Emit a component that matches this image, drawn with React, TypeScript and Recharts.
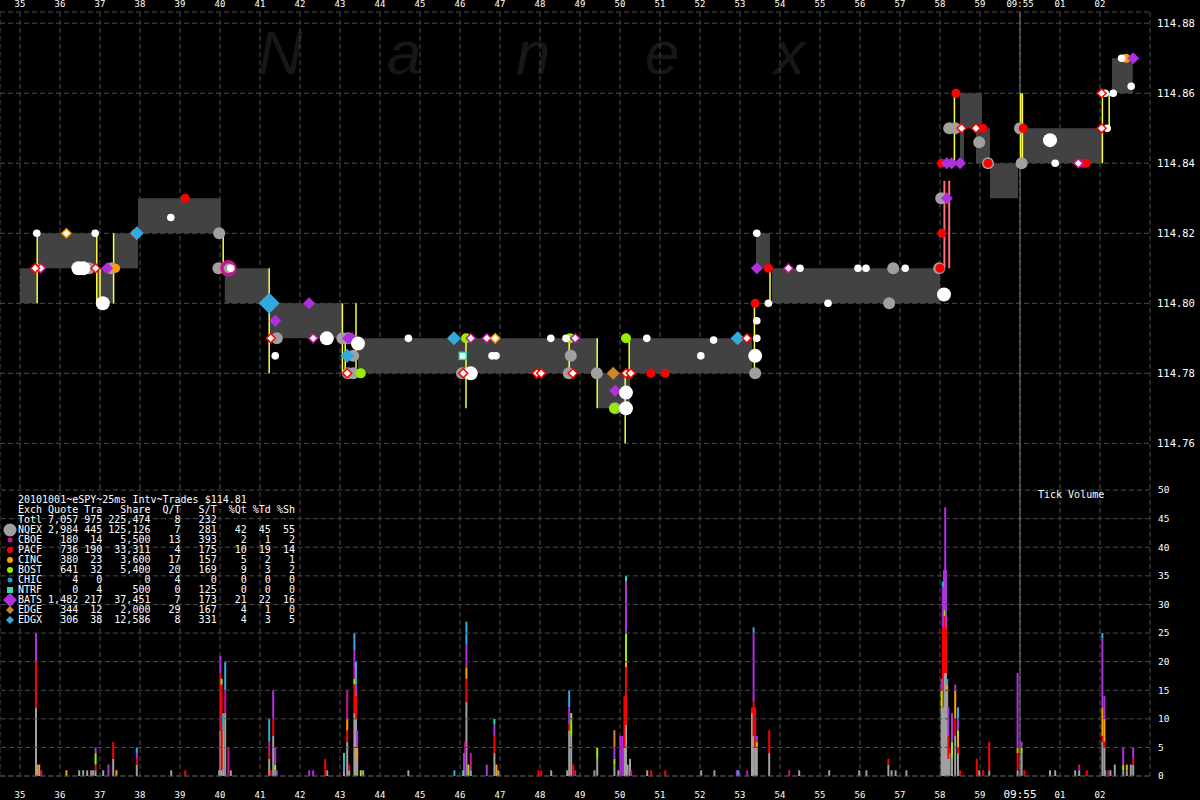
import {
  ComposedChart, XAxis, YAxis, CartesianGrid, ReferenceArea, ReferenceLine, Scatter, Bar,
} from 'recharts'

// seconds after 09:54:00 — 60 is 09:55:00
const SECONDS = [35, 36, 37, 38, 39, 40, 41, 42, 43, 44, 45, 46, 47, 48, 49, 50, 51, 52, 53, 54, 55, 56, 57, 58, 59, 60, 61, 62]
const X_DOMAIN = [34.5, 63.25]
const PRICE_TICKS = [114.76, 114.78, 114.8, 114.82, 114.84, 114.86, 114.88]
const PRICE_DOMAIN = [114.665, 114.8832]
const VOL_TICKS = [0, 5, 10, 15, 20, 25, 30, 35, 40, 45, 50]
const VOL_DOMAIN = [0, 133.6]

// NBBO spread boxes: [start, end, bid, ask]
const SPREADS = [
  [35.0, 35.43, 114.80, 114.81],
  [35.45, 36.92, 114.81, 114.82],
  [36.92, 37.35, 114.80, 114.81],
  [37.35, 37.95, 114.81, 114.82],
  [37.95, 40.02, 114.82, 114.83],
  [40.12, 41.23, 114.80, 114.81],
  [41.23, 43.05, 114.79, 114.80],
  [43.45, 49.45, 114.78, 114.79],
  [49.45, 50.25, 114.77, 114.78],
  [50.25, 53.3, 114.78, 114.79],
  [53.4, 53.75, 114.81, 114.82],
  [53.8, 58.0, 114.80, 114.81],
  [58.5, 58.6, 114.84, 114.86],
  [58.6, 59.05, 114.85, 114.86],
  [58.9, 59.25, 114.84, 114.85],
  [59.25, 59.95, 114.83, 114.84],
  [60.05, 62.05, 114.84, 114.85],
  [62.3, 62.82, 114.86, 114.87],
]

// trade-through lines: [t, low, high]
const YELLOW_LINES = [
  [35.43, 114.80, 114.82], [36.92, 114.80, 114.82], [37.0, 114.80, 114.81], [37.34, 114.80, 114.82],
  [40.08, 114.81, 114.82], [41.23, 114.78, 114.81], [43.06, 114.78, 114.80], [43.13, 114.78, 114.79],
  [43.4, 114.78, 114.80], [46.15, 114.77, 114.79], [48.73, 114.78, 114.79], [49.43, 114.77, 114.79],
  [50.13, 114.76, 114.78], [50.23, 114.78, 114.79], [53.36, 114.78, 114.80], [53.75, 114.80, 114.81],
  [58.36, 114.84, 114.86], [60.02, 114.84, 114.86], [60.06, 114.84, 114.86], [62.06, 114.84, 114.86],
  [62.23, 114.85, 114.86],
]
const SALMON_LINES = [[58.11, 114.81, 114.835], [58.23, 114.81, 114.835]]

// quotes and trades: [t, price]
const NQEX_Q = [
  [36.73, 114.81], [37.29, 114.81], [39.98, 114.82], [39.96, 114.81], [41.42, 114.79], [43.06, 114.79],
  [43.2, 114.79], [43.33, 114.785], [43.2, 114.78], [43.33, 114.78], [48.77, 114.785], [49.42, 114.78],
  [53.38, 114.78], [56.73, 114.80], [56.83, 114.81], [57.98, 114.81], [58.03, 114.83], [58.23, 114.85],
  [58.38, 114.85], [58.98, 114.846], [60.0, 114.85], [60.04, 114.84], [59.2, 114.84], [46.05, 114.78],
  [48.72, 114.78], [49.88, 114.77],
]
const PACF_Q = [
  [39.13, 114.83], [37.88, 114.82], [50.77, 114.78], [51.13, 114.78], [53.38, 114.80], [53.71, 114.81],
  [58.4, 114.86], [58.05, 114.82], [58.04, 114.84], [59.07, 114.85], [60.08, 114.85], [61.65, 114.84],
  [58.0, 114.81], [59.2, 114.84], [61.6, 114.84],
]
const CBOE_Q = [[61.5, 114.84]]
const CBOE_BIG = [[40.21, 114.81]]
const CINC_Q = [[37.39, 114.81], [62.65, 114.87], [35.42, 114.81]]
const BOST_Q = [[43.52, 114.78], [46.15, 114.79], [48.75, 114.79], [50.15, 114.79], [49.85, 114.77]]
const BATS_Q = [
  [37.18, 114.81], [42.23, 114.80], [41.38, 114.795], [43.2, 114.79], [43.3, 114.79], [49.88, 114.775],
  [53.42, 114.81], [58.17, 114.83], [58.29, 114.84], [58.5, 114.84], [62.83, 114.87], [58.17, 114.84],
]
const EDGE_Q = [[49.83, 114.78]]
const EDGX_Q = [[37.92, 114.82], [43.18, 114.785], [45.85, 114.79], [52.94, 114.79]]
const EDGX_BIG = [[41.23, 114.80]]
const NTRF_Q = [[46.07, 114.785]]
const SMALL_TRADES = [
  [35.42, 114.82], [36.88, 114.82], [38.77, 114.8245], [40.27, 114.81], [41.38, 114.785], [44.71, 114.79],
  [46.8, 114.785], [46.9, 114.785], [48.27, 114.79], [48.65, 114.79], [50.67, 114.79], [52.34, 114.7895],
  [52.02, 114.785], [53.42, 114.79], [53.42, 114.795], [53.71, 114.80], [53.42, 114.82], [54.5, 114.81],
  [55.2, 114.80], [55.95, 114.81], [56.15, 114.81], [57.13, 114.81], [60.88, 114.84], [62.18, 114.85],
  [62.13, 114.86], [62.33, 114.86], [62.54, 114.87], [62.78, 114.862],
]
const BIG_TRADES = [
  [36.46, 114.81], [36.58, 114.81], [37.07, 114.80], [42.67, 114.79], [43.45, 114.7885], [46.27, 114.78],
  [50.15, 114.7745], [50.15, 114.77], [53.38, 114.785], [58.1, 114.8025], [60.75, 114.8466],
]
const BATS_TRADES = [
  [35.52, 114.81], [42.33, 114.79], [46.27, 114.79], [46.67, 114.79], [48.88, 114.79], [54.21, 114.81],
  [61.46, 114.84],
]
const PACF_TRADES = [
  [36.89, 114.81], [35.38, 114.81], [41.27, 114.79], [47.92, 114.78], [48.03, 114.78], [48.82, 114.78],
  [50.15, 114.78], [50.27, 114.78], [58.54, 114.85], [58.9, 114.85], [53.17, 114.79], [62.04, 114.86],
  [62.04, 114.85], [43.18, 114.78], [46.08, 114.78],
]
const CINC_TRADES = [[36.16, 114.82], [46.88, 114.79]]

// tick volume per 25ms bucket: [t, nqex, pacf, cinc, bost, cboe, bats, edgx, ntrf, edge]
const VOL_BARS = [
  [35.40, 12, 8, 0, 0, 0, 5], [35.43, 2], [35.48, 0, 0, 2], [35.53, 0, 0, 0, 0, 1], [36.16, 0, 0, 1],
  [36.48, 1], [36.58, 1], [36.68, 1], [36.78, 1], [36.83, 1], [36.89, 1, 1, 0, 2, 0, 1], [37.08, 1],
  [37.21, 0, 0, 0, 0, 0, 2], [37.33, 3, 3], [37.41, 0, 0, 1], [37.92, 2, 1, 0, 0, 0, 1, 1], [38.78, 1],
  [39.13, 0, 1], [39.98, 1], [40.01, 8, 10, 0, 0, 0, 3], [40.04, 1, 15, 0, 1], [40.08, 8, 0, 0, 0, 0, 0, 3],
  [40.13, 11, 0, 0, 0, 4, 0, 5], [40.21, 0, 0, 0, 0, 5], [40.27, 1], [41.23, 3, 1, 0, 0, 2, 0, 4],
  [41.27, 0, 1], [41.33, 7, 3, 0, 0, 0, 5], [41.38, 1, 0, 0, 1, 0, 3], [41.42, 0, 0, 0, 0, 0, 1],
  [42.23, 0, 0, 0, 0, 0, 1], [42.33, 0, 0, 0, 0, 0, 1], [42.63, 0, 3], [42.68, 1],
  [43.10, 1, 0, 0, 0, 0, 0, 2, 1], [43.18, 6, 2, 2, 0, 5], [43.23, 1, 1], [43.36, 11, 5, 0, 1, 2, 3, 3],
  [43.40, 10, 4, 0, 0, 0, 2, 4], [43.43, 3, 0, 2, 0, 0, 3], [43.52, 0, 0, 0, 1], [43.58, 1], [44.71, 1],
  [45.86, 0, 0, 0, 0, 0, 0, 1], [46.08, 0, 0, 0, 0, 0, 0, 0, 1], [46.10, 0, 0, 0, 0, 0, 4],
  [46.13, 0, 0, 0, 0, 6], [46.16, 13, 4, 2, 0, 0, 4, 4], [46.21, 0, 0, 0, 2], [46.27, 1, 0, 0, 0, 3],
  [46.67, 0, 0, 0, 0, 0, 2], [46.86, 4, 3, 0, 0, 0, 2, 0, 1], [46.91, 0, 0, 2], [46.96, 1], [47.96, 0, 1],
  [48.03, 0, 1], [48.28, 1], [48.68, 1], [48.73, 8, 1, 0, 0, 0, 3, 3], [48.78, 7, 0, 0, 4], [48.83, 0, 2],
  [48.88, 0, 0, 0, 0, 1], [49.36, 1], [49.43, 3, 0, 0, 2], [49.86, 2, 0, 0, 1, 0, 2, 0, 0, 3], [49.96, 1],
  [50.01, 0, 0, 0, 0, 0, 7], [50.06, 0, 0, 0, 0, 0, 7], [50.11, 5, 9], [50.15, 9, 10, 1, 5, 0, 9, 0, 1],
  [50.19, 2], [50.25, 3], [50.28, 0, 0, 0, 0, 1], [50.68, 1], [50.78, 0, 1], [51.13, 0, 1], [52.03, 1],
  [52.36, 1], [52.92, 0, 0, 0, 0, 0, 1], [52.96, 0, 0, 0, 0, 0, 0, 1], [53.18, 0, 0, 0, 0, 1],
  [53.30, 11, 1], [53.34, 7, 6, 0, 0, 0, 12, 1], [53.38, 5, 7], [53.42, 5, 0, 1, 0, 0, 1], [53.73, 4, 4],
  [54.23, 0, 0, 0, 0, 1], [54.48, 1], [55.23, 1], [55.98, 1], [56.16, 1], [56.71, 2, 1], [56.79, 1],
  [56.89, 1], [57.16, 1], [58.04, 12, 0, 0, 3, 0, 2], [58.07, 12, 14, 0, 0, 0, 7, 1],
  [58.10, 18, 10, 0, 1, 0, 7], [58.13, 29, 4, 0, 1, 0, 13], [58.15, 18, 8, 0, 0, 0, 10],
  [58.18, 15, 0, 1, 0, 0, 0, 1], [58.21, 3, 4, 0, 0, 0, 5], [58.24, 4, 1], [58.30, 3, 0, 0, 3, 0, 5],
  [58.38, 7, 3, 5, 0, 0, 1], [58.45, 4, 1, 2, 1, 0, 2, 2], [58.50, 0, 1], [58.92, 0, 3], [58.98, 1],
  [59.08, 0, 1], [59.23, 1, 5], [59.94, 1, 3, 1, 0, 0, 13], [60.04, 4, 0, 0, 1, 0, 1], [60.11, 0, 1],
  [60.75, 1], [60.88, 1], [61.38, 1], [61.48, 1, 0, 0, 0, 1], [61.67, 0, 1],
  [62.06, 6, 1, 5, 0, 0, 12, 1], [62.11, 5, 1, 4, 0, 0, 4], [62.13, 1], [62.21, 0, 0, 0, 0, 1],
  [62.26, 1], [62.37, 2], [62.58, 1, 0, 0, 1, 0, 3], [62.67, 1, 0, 1], [62.77, 2], [62.83, 2, 1, 0, 0, 0, 2],
]
const VOL_KEYS = ['nqex', 'pacf', 'cinc', 'bost', 'cboe', 'bats', 'edgx', 'ntrf', 'edge']

// exchange summary table
const EXCH = ['NQEX', 'CBOE', 'PACF', 'CINC', 'BOST', 'CHIC', 'NTRF', 'BATS', 'EDGE', 'EDGX']
const QUOTES = [2984, 180, 736, 380, 641, 4, 0, 1482, 344, 306]
const TRADES = [445, 14, 190, 23, 32, 0, 4, 217, 12, 38]
const SHARES = [125126, 5500, 33311, 3600, 5400, 0, 500, 37451, 2000, 12586]
const Q_PER_T = [7, 13, 4, 17, 20, 4, 0, 7, 29, 8]
const S_PER_T = [281, 393, 175, 157, 169, 0, 125, 173, 167, 331]
const PCT_QT = [42, 2, 10, 5, 9, 0, 0, 21, 4, 4]
const PCT_TD = [45, 1, 19, 2, 3, 0, 0, 22, 1, 3]
const PCT_SH = [55, 2, 14, 1, 2, 0, 0, 16, 0, 5]
const TOTAL = [7057, 975, 225474, 8, 232]

const C = {
  nqex: '#a0a0a0', pacf: '#ff0000', cinc: '#ffa000', bost: '#99ee00', cboe: '#cc1199',
  bats: '#b030e0', edgx: '#33aadd', ntrf: '#33ddaa', edge: '#cc8822', chic: '#2299dd',
}
const GRID = '#4a4a4a'
const MONO = '"DejaVu Sans Mono", monospace'

const pts = (a: number[][]) => a.map(([t, p]) => ({ t, p }))
const volData = VOL_BARS.map(([t, ...v]) => {
  const row: Record<string, number> = { t }
  VOL_KEYS.forEach((k, i) => { row[k] = v[i] ?? 0 })
  return row
})

const circle = (fill: string, r: number, stroke = 'none', sw = 0) => (p: any) =>
  <circle cx={p.cx} cy={p.cy} r={r} fill={fill} stroke={stroke} strokeWidth={sw} />
const diamond = (fill: string, r: number, stroke = 'none', sw = 0) => (p: any) =>
  <polygon
    points={`${p.cx},${p.cy - r} ${p.cx + r},${p.cy} ${p.cx},${p.cy + r} ${p.cx - r},${p.cy}`}
    fill={fill} stroke={stroke} strokeWidth={sw}
  />
const square = (stroke: string, r: number) => (p: any) =>
  <rect x={p.cx - r} y={p.cy - r} width={2 * r} height={2 * r} fill="#fff" stroke={stroke} strokeWidth={1.5} />

const MARKERS = [
  { data: NQEX_Q, shape: circle(C.nqex, 6) },
  { data: PACF_Q, shape: circle(C.pacf, 4.5) },
  { data: CBOE_BIG, shape: circle(C.nqex, 6.5, C.cboe, 3.5) },
  { data: CBOE_Q, shape: circle(C.cboe, 4) },
  { data: CINC_Q, shape: circle(C.cinc, 4.5) },
  { data: BOST_Q, shape: circle(C.bost, 5) },
  { data: BATS_Q, shape: diamond(C.bats, 6) },
  { data: EDGE_Q, shape: diamond(C.edge, 6.5) },
  { data: EDGX_Q, shape: diamond(C.edgx, 7) },
  { data: EDGX_BIG, shape: diamond(C.edgx, 10.5) },
  { data: NTRF_Q, shape: square(C.ntrf, 3.5) },
  { data: BIG_TRADES, shape: circle('#fff', 7) },
  { data: SMALL_TRADES, shape: circle('#fff', 3.8) },
  { data: BATS_TRADES, shape: diamond('#fff', 4.5, C.cboe, 1.5) },
  { data: PACF_TRADES, shape: diamond('#fff', 4.5, C.pacf, 1.5) },
  { data: CINC_TRADES, shape: diamond('#fff', 4.5, C.cinc, 1.5) },
]

const timeLabel = (t: number) => (t === 60 ? '09:55' : t > 60 ? '0' + (t - 60) : String(t))

const TopTick = (p: any) => (
  <text x={p.x} y={p.y} dy={-3.5} textAnchor="middle" fill="#fff" fontSize={9} fontFamily={MONO}>
    {timeLabel(p.payload.value)}
  </text>
)
const BottomTick = (p: any) => (
  <text x={p.x} y={p.y} dy={20} textAnchor="middle" fill="#fff" fontSize={p.payload.value === 60 ? 11 : 9} fontFamily={MONO}>
    {timeLabel(p.payload.value)}
  </text>
)
const PriceTick = (p: any) => (
  <text x={p.x} y={p.y} dy={4} textAnchor="start" fill="#fff" fontSize={10.5} fontFamily={MONO}>
    {p.payload.value.toFixed(2)}
  </text>
)

const thinBar = (p: any) =>
  p.height > 0.1 ? <rect x={p.x + p.width / 2 - 1} y={p.y} width={2} height={p.height} fill={p.fill} /> : null

const num = (n: number) => n.toLocaleString('en-US')
const HEADER = 'Exch' + 'Quote'.padStart(6) + 'Tra'.padStart(4) + 'Share'.padStart(8) + 'Q/T'.padStart(5)
  + 'S/T'.padStart(6) + '%Qt'.padStart(5) + '%Td'.padStart(4) + '%Sh'.padStart(4)
const TOTAL_ROW = 'Totl' + num(TOTAL[0]).padStart(6) + num(TOTAL[1]).padStart(4) + num(TOTAL[2]).padStart(8)
  + String(TOTAL[3]).padStart(5) + String(TOTAL[4]).padStart(6)
const ROWS = EXCH.map((e, i) => e + num(QUOTES[i]).padStart(6) + num(TRADES[i]).padStart(4)
  + num(SHARES[i]).padStart(8) + String(Q_PER_T[i]).padStart(5) + String(S_PER_T[i]).padStart(6)
  + String(PCT_QT[i]).padStart(5) + String(PCT_TD[i]).padStart(4) + String(PCT_SH[i]).padStart(4))

function LegendIcons() {
  const y0 = 530
  return (
    <g>
      <circle cx={10} cy={y0} r={6.5} fill={C.nqex} />
      <circle cx={10} cy={y0 + 10} r={2.5} fill={C.cboe} />
      <circle cx={10} cy={y0 + 20} r={3} fill={C.pacf} />
      <circle cx={10} cy={y0 + 30} r={3} fill={C.cinc} />
      <circle cx={10} cy={y0 + 40} r={3} fill={C.bost} />
      <circle cx={10} cy={y0 + 50} r={2.5} fill={C.chic} />
      <rect x={7} y={y0 + 57} width={6} height={6} fill={C.ntrf} />
      <polygon points={`10,${y0 + 63} 17,${y0 + 70} 10,${y0 + 77} 3,${y0 + 70}`} fill={C.bats} />
      <polygon points={`10,${y0 + 76} 14,${y0 + 80} 10,${y0 + 84} 6,${y0 + 80}`} fill={C.edge} />
      <polygon points={`10,${y0 + 86} 14,${y0 + 90} 10,${y0 + 94} 6,${y0 + 90}`} fill={C.edgx} />
    </g>
  )
}

export default function App() {
  return (
    <div style={{ position: 'fixed', left: 0, top: 0, width: 1200, height: 800, background: '#000', overflow: 'hidden' }}>
      <svg width={1200} height={800} style={{ position: 'absolute', left: 0, top: 0 }}>
        {['N', 'a', 'n', 'e', 'x'].map((c, i) => (
          <text key={i} x={258 + i * 129} y={74} fontSize={62} fontStyle="italic" fontFamily="Liberation Sans" fill="#171717">
            {c}
          </text>
        ))}
      </svg>
      <div style={{ position: 'absolute', left: 0, top: 0 }}>
        <ComposedChart width={1200} height={800} data={volData} margin={{ top: 0, right: 0, bottom: 0, left: 0 }}>
          <XAxis
            xAxisId="top" orientation="top" type="number" dataKey="t" domain={X_DOMAIN} ticks={SECONDS}
            allowDataOverflow height={12} axisLine={false} tickLine={false} tickSize={0} tick={TopTick} interval={0}
          />
          <XAxis
            xAxisId="b" orientation="bottom" type="number" dataKey="t" domain={X_DOMAIN} ticks={SECONDS}
            allowDataOverflow height={24} axisLine={false} tickLine={false} tickSize={0} tick={BottomTick} interval={0}
          />
          <YAxis
            yAxisId="p" orientation="right" type="number" domain={PRICE_DOMAIN} ticks={PRICE_TICKS} allowDataOverflow
            width={50} axisLine={false} tickLine={false} tickSize={0} tickMargin={7} tick={PriceTick} interval={0}
          />
          <YAxis yAxisId="v" orientation="right" type="number" domain={VOL_DOMAIN} allowDataOverflow hide />
          <CartesianGrid xAxisId="b" yAxisId="p" stroke={GRID} strokeDasharray="5 3" />
          {VOL_TICKS.map(v => (
            <ReferenceLine
              key={'g' + v} yAxisId="v" xAxisId="b" y={v} stroke={GRID} strokeDasharray="5 3"
              label={{ value: v, position: 'right', offset: 8, fill: '#fff', fontSize: 9.5, fontFamily: MONO }}
            />
          ))}
          <ReferenceLine xAxisId="b" yAxisId="p" x={60} stroke="#7a7a7a" />
          {SPREADS.map(([a, b, bid, ask], i) => (
            <ReferenceArea
              key={'s' + i} xAxisId="b" yAxisId="p" x1={a} x2={b} y1={bid} y2={ask}
              fill="#424242" fillOpacity={1} stroke="none"
            />
          ))}
          {YELLOW_LINES.map(([t, lo, hi], i) => (
            <ReferenceLine
              key={'y' + i} xAxisId="b" yAxisId="p" segment={[{ x: t, y: lo }, { x: t, y: hi }]}
              stroke="#ffff40" strokeWidth={1.5}
            />
          ))}
          {SALMON_LINES.map(([t, lo, hi], i) => (
            <ReferenceLine
              key={'r' + i} xAxisId="b" yAxisId="p" segment={[{ x: t, y: lo }, { x: t, y: hi }]}
              stroke="#ff7070" strokeWidth={2}
            />
          ))}
          {VOL_KEYS.map(k => (
            <Bar
              key={k} xAxisId="b" yAxisId="v" dataKey={k} stackId="vol" fill={(C as any)[k]}
              shape={thinBar} isAnimationActive={false}
            />
          ))}
          {MARKERS.map((m, i) => (
            <Scatter
              key={'m' + i} xAxisId="b" yAxisId="p" data={pts(m.data)} dataKey="p"
              shape={m.shape} isAnimationActive={false}
            />
          ))}
        </ComposedChart>
      </div>
      <svg width={1200} height={800} style={{ position: 'absolute', left: 0, top: 0, pointerEvents: 'none' }}>
        <LegendIcons />
        <text x={1038} y={498} fill="#fff" fontSize={10} fontFamily={MONO}>Tick Volume</text>
      </svg>
      <div
        style={{
          position: 'absolute', left: 18, top: 495, color: '#fff', fontFamily: MONO, fontSize: 10,
          lineHeight: '10px', whiteSpace: 'pre',
        }}
      >
        <div>20101001~eSPY~25ms Intv~Trades $114.81</div>
        <div>{HEADER}</div>
        <div>{TOTAL_ROW}</div>
        {ROWS.map(r => <div key={r}>{r}</div>)}
      </div>
    </div>
  )
}
